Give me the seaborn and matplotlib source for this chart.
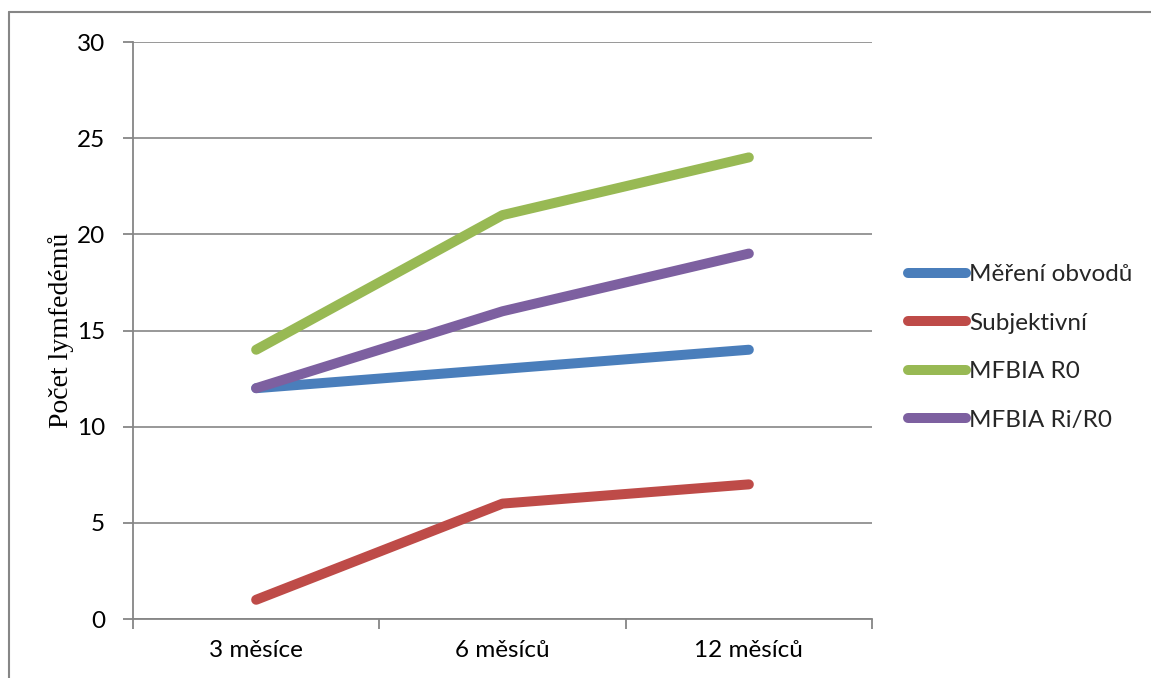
import matplotlib
matplotlib.use("Agg")
import matplotlib.pyplot as plt
from matplotlib.lines import Line2D
import seaborn as sns
import pandas as pd

# Data
periods = ["3 měsíce", "6 měsíců", "12 měsíců"]
series_names = ["Měření obvodů", "Subjektivní", "MFBIA R0", "MFBIA Ri/R0"]
mereni_obvodu = [12, 13, 14]
subjektivni = [1, 6, 7]
mfbia_r0 = [14, 21, 24]
mfbia_ri_r0 = [12, 16, 19]
colors = ["#4A7EBB", "#BE4B48", "#98B954", "#7D60A0"]

rows = []
for name, vals in zip(series_names, [mereni_obvodu, subjektivni, mfbia_r0, mfbia_ri_r0]):
    for p, v in zip(periods, vals):
        rows.append({"Období": p, "Počet": v, "Metoda": name})
df = pd.DataFrame(rows)

sns.set_theme(style="white")
plt.rcParams["font.family"] = ["Lato", "DejaVu Sans"]

fig = plt.figure(figsize=(11.51, 6.78), dpi=100)
ax = fig.add_axes([133 / 1151, 1 - 619 / 678, (872 - 133) / 1151, (619 - 42) / 678])

grid_c = "#868686"
fs = 17.5

sns.lineplot(data=df, x="Období", y="Počet", hue="Metoda", hue_order=series_names,
             palette=colors, linewidth=7.2, ax=ax, legend=True, sort=False)
for line in ax.get_lines():
    line.set_solid_capstyle("round")
    line.set_solid_joinstyle("round")

ax.set_ylim(0, 30)
ax.set_yticks(range(0, 31, 5))
ax.set_xlim(-0.5, 2.5)
ax.set_xticks([-0.5, 0.5, 1.5, 2.5])
ax.set_xticklabels([])
ax.set_xticks([0, 1, 2], minor=True)
ax.set_xticklabels(periods, minor=True)
ax.tick_params(axis="x", which="major", length=7, width=1.3, color=grid_c, direction="out", bottom=True)
ax.tick_params(axis="x", which="minor", length=0, pad=15, labelsize=fs, labelcolor="black")
ax.tick_params(axis="y", length=7, width=1.3, color=grid_c, direction="out", left=True, pad=13,
               labelsize=fs, labelcolor="black")

ax.grid(axis="y", color=grid_c, linewidth=1.2)
ax.set_axisbelow(True)
for s in ["top", "right"]:
    ax.spines[s].set_visible(False)
for s in ["left", "bottom"]:
    ax.spines[s].set_color(grid_c)
    ax.spines[s].set_linewidth(1.3)

ax.set_xlabel("")
ax.set_ylabel("Počet lymfedémů", fontfamily="Liberation Serif", fontsize=20, color="black")
ax.yaxis.set_label_coords((74 - 133) / 739, 0.5)

handles, labels = ax.get_legend_handles_labels()
ax.get_legend().remove()
for h in handles:
    h.set_linewidth(7.2)
    h.set_solid_capstyle("round")
fig.legend(handles, labels, loc="center left", bbox_to_anchor=(908 / 1151, 1 - 347.5 / 678),
           frameon=False, fontsize=fs, handlelength=2.4, handletextpad=0.1,
           labelspacing=1.13, borderpad=0, borderaxespad=0)

# Outer chart border (left and top edges)
bx, by = 8.5 / 1151, 1 - 12 / 678
fig.add_artist(Line2D([bx, bx], [-0.1, by], transform=fig.transFigure, color=grid_c, linewidth=1.5))
fig.add_artist(Line2D([bx, 1.1], [by, by], transform=fig.transFigure, color=grid_c, linewidth=1.5))

fig.savefig("out.png", dpi=100)
